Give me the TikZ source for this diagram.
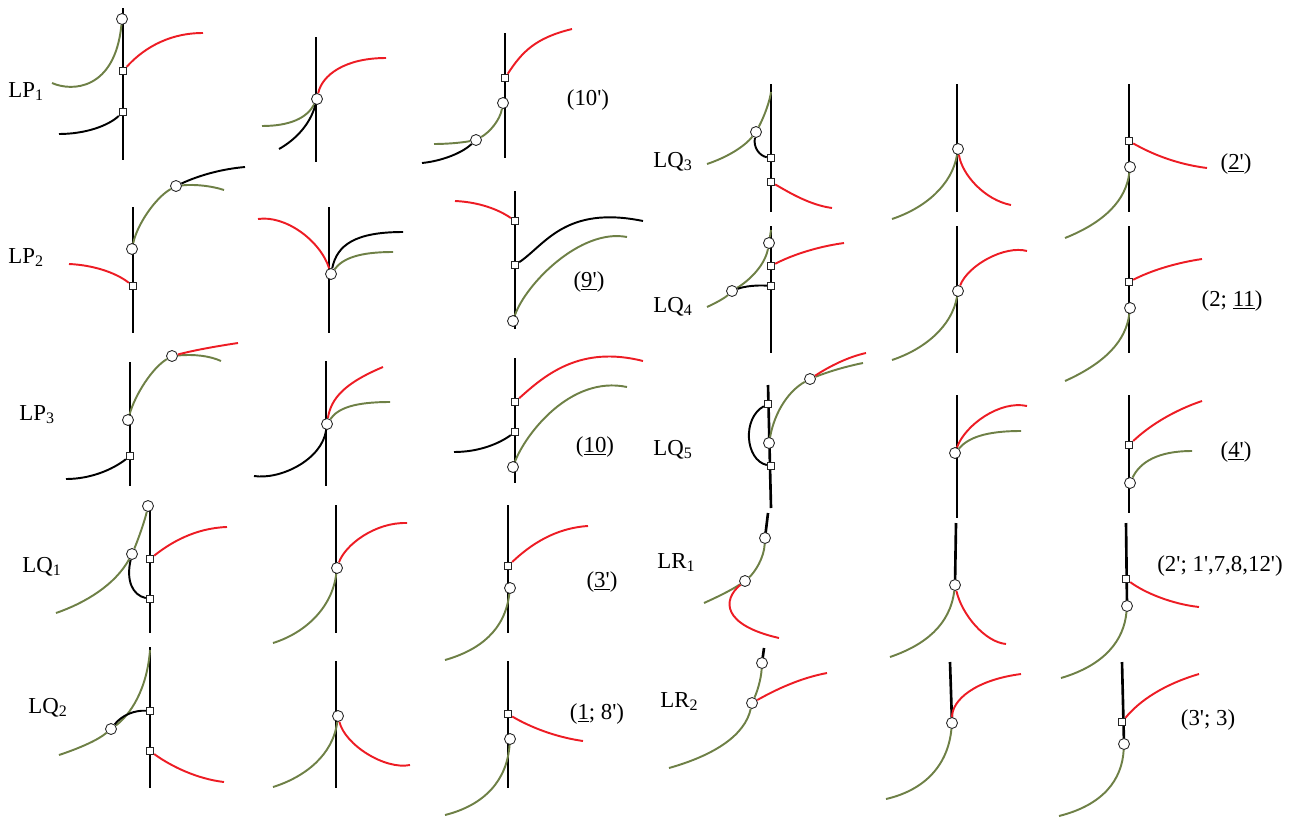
\documentclass[tikz,border=0pt]{standalone}
\usepackage{fontspec}
\setmainfont{Liberation Serif}
\definecolor{lred}{RGB}{237,28,36}
\definecolor{lgreen}{RGB}{110,128,70}
\newcommand\qs{\textquotesingle}
\begin{document}
\begin{tikzpicture}[x=0.02cm,y=-0.02cm,
  ax/.style={line width=1.5pt},
  rc/.style={lred,line width=1.1pt},
  gc/.style={lgreen,line width=1.1pt},
  kc/.style={black,line width=1.1pt},
  dot/.style={circle,draw=black!85,fill=white,line width=0.5pt,inner sep=0pt,minimum size=0.22cm},
  box/.style={rectangle,draw=black!85,fill=white,line width=0.5pt,inner sep=0pt,minimum size=0.15cm},
  lab/.style={font=\fontsize{13}{15}\selectfont,inner sep=0pt}]
\useasboundingbox (0,0) rectangle (1300,818);
\coordinate (p1a-t) at (123,8);
\coordinate (p1a-b) at (123,160);
\draw[ax] (p1a-t) -- (p1a-b);
\node[dot] (p1a-o1) at (122,19){};
\node[box] (p1a-s1) at (123,71){};
\node[box] (p1a-s2) at (123,112){};
\coordinate (p1a-g) at (52,83);
\coordinate (p1a-r) at (203,33);
\coordinate (p1a-k) at (59,134);
\draw[gc] (p1a-g) .. controls (72,92) and (115,90) .. (p1a-o1);
\draw[rc] (p1a-s1) .. controls (140,52) and (165,33) .. (p1a-r);
\draw[kc] (p1a-k) .. controls (85,134) and (108,126) .. (p1a-s2);
\node[lab,anchor=base west] (lp1) at (8,97) {LP\textsubscript{1}};
\coordinate (p1b-t) at (316,37);
\coordinate (p1b-b) at (316,162);
\draw[ax] (p1b-t) -- (p1b-b);
\node[dot] (p1b-o1) at (317,99){};
\coordinate (p1b-r) at (386,58);
\coordinate (p1b-g) at (262,126);
\coordinate (p1b-k) at (279,149);
\draw[rc] (p1b-o1) .. controls (322,75) and (345,58) .. (p1b-r);
\draw[gc] (p1b-g) .. controls (290,126) and (307,118) .. (p1b-o1);
\draw[kc] (p1b-k) .. controls (295,140) and (310,125) .. (p1b-o1);
\coordinate (p1c-t) at (505,33);
\coordinate (p1c-b) at (505,158);
\draw[ax] (p1c-t) -- (p1c-b);
\node[box] (p1c-s1) at (505,78){};
\node[dot] (p1c-o1) at (503,103){};
\node[dot] (p1c-o2) at (476,140){};
\coordinate (p1c-r) at (572,29);
\coordinate (p1c-g) at (434,144);
\coordinate (p1c-k) at (422,163);
\draw[rc] (p1c-s1) .. controls (522,52) and (535,38) .. (p1c-r);
\draw[gc] (p1c-o1) .. controls (500,120) and (490,132) .. (p1c-o2);
\draw[gc] (p1c-o2) .. controls (460,143) and (445,144) .. (p1c-g);
\draw[kc] (p1c-k) .. controls (442,161) and (462,153) .. (p1c-o2);
\node[lab,anchor=base] (n10p) at (588,105) {(10\qs)};
\coordinate (p2a-t) at (133,207);
\coordinate (p2a-b) at (133,333);
\draw[ax] (p2a-t) -- (p2a-b);
\node[dot] (p2a-o1) at (132,249){};
\node[dot] (p2a-o2) at (176,186){};
\node[box] (p2a-s1) at (133,286){};
\coordinate (p2a-g) at (224,190);
\coordinate (p2a-k) at (245,167);
\coordinate (p2a-r) at (69,264);
\draw[gc] (p2a-o1) .. controls (137,225) and (155,198) .. (p2a-o2);
\draw[gc] (p2a-o2) .. controls (195,184) and (212,186) .. (p2a-g);
\draw[kc] (p2a-o2) .. controls (200,175) and (222,169) .. (p2a-k);
\draw[rc] (p2a-r) .. controls (92,265) and (115,272) .. (p2a-s1);
\node[lab,anchor=base west] (lp2) at (8,263) {LP\textsubscript{2}};
\coordinate (p2b-t) at (329,207);
\coordinate (p2b-b) at (329,333);
\draw[ax] (p2b-t) -- (p2b-b);
\node[dot] (p2b-o1) at (331,274){};
\coordinate (p2b-r) at (258,219);
\coordinate (p2b-k) at (403,232);
\coordinate (p2b-g) at (393,252);
\draw[rc] (p2b-r) .. controls (285,215) and (320,240) .. (p2b-o1);
\draw[kc] (p2b-o1) .. controls (337,245) and (355,232) .. (p2b-k);
\draw[gc] (p2b-o1) .. controls (343,258) and (360,252) .. (p2b-g);
\coordinate (p2c-t) at (515,191);
\coordinate (p2c-b) at (515,329);
\draw[ax] (p2c-t) -- (p2c-b);
\node[box] (p2c-s1) at (515,221){};
\node[box] (p2c-s2) at (515,265){};
\node[dot] (p2c-o1) at (513,321){};
\coordinate (p2c-r) at (455,201);
\coordinate (p2c-k) at (643,221);
\coordinate (p2c-g) at (627,237);
\draw[rc] (p2c-r) .. controls (478,202) and (498,209) .. (p2c-s1);
\draw[kc] (p2c-s2) .. controls (545,245) and (565,205) .. (p2c-k);
\draw[gc] (p2c-o1) .. controls (525,285) and (580,228) .. (p2c-g);
\node[lab,anchor=base] (n9p) at (589,287) {(\underline{9\qs})};
\coordinate (p3a-t) at (130,362);
\coordinate (p3a-b) at (130,486);
\draw[ax] (p3a-t) -- (p3a-b);
\node[dot] (p3a-o1) at (128,420){};
\node[dot] (p3a-o2) at (172,356){};
\node[box] (p3a-s1) at (130,456){};
\coordinate (p3a-g) at (221,361);
\coordinate (p3a-r) at (238,343);
\coordinate (p3a-k) at (66,479);
\draw[gc] (p3a-o1) .. controls (135,395) and (152,368) .. (p3a-o2);
\draw[gc] (p3a-o2) .. controls (195,354) and (210,356) .. (p3a-g);
\draw[rc] (p3a-o2) .. controls (195,350) and (218,346) .. (p3a-r);
\draw[kc] (p3a-k) .. controls (90,479) and (112,470) .. (p3a-s1);
\node[lab,anchor=base west] (lp3) at (19,420) {LP\textsubscript{3}};
\coordinate (p3b-t) at (326,361);
\coordinate (p3b-b) at (326,486);
\draw[ax] (p3b-t) -- (p3b-b);
\node[dot] (p3b-o1) at (327,424){};
\coordinate (p3b-r) at (383,367);
\coordinate (p3b-g) at (390,402);
\coordinate (p3b-k) at (254,476);
\draw[rc] (p3b-o1) .. controls (331,398) and (345,383) .. (p3b-r);
\draw[gc] (p3b-o1) .. controls (338,408) and (355,402) .. (p3b-g);
\draw[kc] (p3b-k) .. controls (280,480) and (322,460) .. (p3b-o1);
\coordinate (p3c-t) at (515,358);
\coordinate (p3c-b) at (515,483);
\draw[ax] (p3c-t) -- (p3c-b);
\node[box] (p3c-s1) at (515,402){};
\node[box] (p3c-s2) at (515,432){};
\node[dot] (p3c-o1) at (513,467){};
\coordinate (p3c-r) at (643,361);
\coordinate (p3c-k) at (454,452);
\coordinate (p3c-g) at (627,387);
\draw[rc] (p3c-s1) .. controls (545,375) and (580,345) .. (p3c-r);
\draw[kc] (p3c-k) .. controls (480,452) and (500,443) .. (p3c-s2);
\draw[gc] (p3c-o1) .. controls (525,435) and (570,375) .. (p3c-g);
\node[lab,anchor=base] (n10) at (595,452) {(\underline{10})};
\coordinate (q1a-t) at (150,510);
\coordinate (q1a-b) at (150,633);
\draw[ax] (q1a-t) -- (q1a-b);
\node[dot] (q1a-o1) at (148,506){};
\node[dot] (q1a-o2) at (132,554){};
\node[box] (q1a-s1) at (150,559){};
\node[box] (q1a-s2) at (150,599){};
\coordinate (q1a-g) at (56,613);
\coordinate (q1a-r) at (227,527);
\draw[gc] (q1a-g) .. controls (85,603) and (115,585) .. (q1a-o2);
\draw[gc] (q1a-o2) .. controls (138,540) and (145,520) .. (q1a-o1);
\draw[kc] (q1a-o2) .. controls (126,580) and (132,595) .. (q1a-s2);
\draw[rc] (q1a-s1) .. controls (170,543) and (195,528) .. (q1a-r);
\node[lab,anchor=base west] (lq1) at (22,572) {LQ\textsubscript{1}};
\coordinate (q1b-t) at (336,505);
\coordinate (q1b-b) at (336,633);
\draw[ax] (q1b-t) -- (q1b-b);
\node[dot] (q1b-o1) at (337,568){};
\coordinate (q1b-r) at (407,523);
\coordinate (q1b-g) at (273,643);
\draw[rc] (q1b-o1) .. controls (345,545) and (375,522) .. (q1b-r);
\draw[gc] (q1b-g) .. controls (305,633) and (332,608) .. (q1b-o1);
\coordinate (q1c-t) at (508,505);
\coordinate (q1c-b) at (508,633);
\draw[ax] (q1c-t) -- (q1c-b);
\node[box] (q1c-s1) at (508,566){};
\node[dot] (q1c-o1) at (510,588){};
\coordinate (q1c-r) at (588,526);
\coordinate (q1c-g) at (445,660);
\draw[rc] (q1c-s1) .. controls (530,545) and (555,528) .. (q1c-r);
\draw[gc] (q1c-o1) .. controls (505,630) and (480,650) .. (q1c-g);
\node[lab,anchor=base] (n3p) at (602,587) {(\underline{3\qs})};
\coordinate (q2a-t) at (150,647);
\coordinate (q2a-b) at (150,788);
\draw[ax] (q2a-t) -- (q2a-b);
\node[box] (q2a-s1) at (150,711){};
\node[dot] (q2a-o1) at (111,729){};
\node[box] (q2a-s2) at (150,751){};
\coordinate (q2a-g) at (59,755);
\coordinate (q2a-gt) at (150,650);
\coordinate (q2a-r) at (224,782);
\draw[gc] (q2a-g) .. controls (80,748) and (98,740) .. (q2a-o1);
\draw[gc] (q2a-o1) .. controls (130,715) and (147,690) .. (q2a-gt);
\draw[kc] (q2a-o1) .. controls (122,715) and (135,710) .. (q2a-s1);
\draw[rc] (q2a-s2) .. controls (172,767) and (198,779) .. (q2a-r);
\node[lab,anchor=base west] (lq2) at (28,713) {LQ\textsubscript{2}};
\coordinate (q2b-t) at (336,661);
\coordinate (q2b-b) at (336,788);
\draw[ax] (q2b-t) -- (q2b-b);
\node[dot] (q2b-o1) at (338,716){};
\coordinate (q2b-g) at (273,787);
\coordinate (q2b-r) at (410,765);
\draw[gc] (q2b-g) .. controls (305,777) and (333,755) .. (q2b-o1);
\draw[rc] (q2b-o1) .. controls (345,745) and (385,770) .. (q2b-r);
\coordinate (q2c-t) at (508,661);
\coordinate (q2c-b) at (508,788);
\draw[ax] (q2c-t) -- (q2c-b);
\node[box] (q2c-s1) at (508,714){};
\node[dot] (q2c-o1) at (510,739){};
\coordinate (q2c-r) at (583,741);
\coordinate (q2c-g) at (445,815);
\draw[rc] (q2c-s1) .. controls (530,727) and (555,737) .. (q2c-r);
\draw[gc] (q2c-o1) .. controls (507,780) and (485,805) .. (q2c-g);
\node[lab,anchor=base] (n18p) at (597,719) {(\underline{1}; 8\qs)};
\coordinate (q3a-t) at (771,84);
\coordinate (q3a-b) at (771,212);
\draw[ax] (q3a-t) -- (q3a-b);
\node[dot] (q3a-o1) at (756,132){};
\node[box] (q3a-s1) at (771,158){};
\node[box] (q3a-s2) at (771,182){};
\coordinate (q3a-g) at (707,164);
\coordinate (q3a-gt) at (771,92);
\coordinate (q3a-r) at (832,208);
\draw[gc] (q3a-g) .. controls (728,157) and (745,146) .. (q3a-o1);
\draw[gc] (q3a-o1) .. controls (765,115) and (770,100) .. (q3a-gt);
\draw[kc] (q3a-o1) .. controls (753,148) and (760,156) .. (q3a-s1);
\draw[rc] (q3a-s2) .. controls (790,193) and (810,205) .. (q3a-r);
\node[lab,anchor=base west] (lq3) at (653,167) {LQ\textsubscript{3}};
\coordinate (q3b-t) at (957,84);
\coordinate (q3b-b) at (957,212);
\draw[ax] (q3b-t) -- (q3b-b);
\node[dot] (q3b-o1) at (958,149){};
\coordinate (q3b-r) at (1011,205);
\coordinate (q3b-g) at (892,219);
\draw[rc] (q3b-o1) .. controls (962,175) and (985,200) .. (q3b-r);
\draw[gc] (q3b-g) .. controls (925,208) and (952,185) .. (q3b-o1);
\coordinate (q3c-t) at (1129,84);
\coordinate (q3c-b) at (1129,212);
\draw[ax] (q3c-t) -- (q3c-b);
\node[box] (q3c-s1) at (1129,141){};
\node[dot] (q3c-o1) at (1130,167){};
\coordinate (q3c-r) at (1207,168);
\coordinate (q3c-g) at (1065,238);
\draw[rc] (q3c-s1) .. controls (1150,153) and (1175,164) .. (q3c-r);
\draw[gc] (q3c-o1) .. controls (1126,200) and (1105,222) .. (q3c-g);
\node[lab,anchor=base] (n2p) at (1236,169) {(\underline{2\qs})};
\coordinate (q4a-t) at (771,226);
\coordinate (q4a-b) at (771,353);
\draw[ax] (q4a-t) -- (q4a-b);
\node[dot] (q4a-o1) at (769,243){};
\node[box] (q4a-s1) at (771,266){};
\node[box] (q4a-s2) at (771,286){};
\node[dot] (q4a-o2) at (732,291){};
\coordinate (q4a-g) at (707,307);
\coordinate (q4a-gt) at (771,230);
\coordinate (q4a-r) at (844,243);
\draw[gc] (q4a-g) .. controls (718,302) and (726,297) .. (q4a-o2);
\draw[gc] (q4a-o2) .. controls (750,280) and (765,265) .. (q4a-o1);
\draw[gc] (q4a-o1) -- (q4a-gt);
\draw[kc] (q4a-o2) .. controls (745,286) and (758,285) .. (q4a-s2);
\draw[rc] (q4a-s1) .. controls (790,256) and (815,247) .. (q4a-r);
\node[lab,anchor=base west] (lq4) at (653,312) {LQ\textsubscript{4}};
\coordinate (q4b-t) at (957,226);
\coordinate (q4b-b) at (957,353);
\draw[ax] (q4b-t) -- (q4b-b);
\node[dot] (q4b-o1) at (958,291){};
\coordinate (q4b-r) at (1027,251);
\coordinate (q4b-g) at (892,360);
\draw[rc] (q4b-o1) .. controls (968,265) and (1005,245) .. (q4b-r);
\draw[gc] (q4b-g) .. controls (925,349) and (952,326) .. (q4b-o1);
\coordinate (q4c-t) at (1129,226);
\coordinate (q4c-b) at (1129,353);
\draw[ax] (q4c-t) -- (q4c-b);
\node[box] (q4c-s1) at (1129,282){};
\node[dot] (q4c-o1) at (1130,308){};
\coordinate (q4c-r) at (1202,259);
\coordinate (q4c-g) at (1065,381);
\draw[rc] (q4c-s1) .. controls (1150,271) and (1175,263) .. (q4c-r);
\draw[gc] (q4c-o1) .. controls (1126,341) and (1105,363) .. (q4c-g);
\node[lab,anchor=base] (n211) at (1232,306) {(2; \underline{11})};
\coordinate (q5a-t) at (768,385);
\coordinate (q5a-b) at (771,508);
\draw[ax] (q5a-t) -- (q5a-b);
\node[box] (q5a-s1) at (768,404){};
\node[dot] (q5a-o1) at (769,443){};
\node[box] (q5a-s2) at (771,466){};
\node[dot] (q5a-o2) at (810,379){};
\coordinate (q5a-g) at (863,363);
\coordinate (q5a-r) at (866,353);
\draw[kc] (q5a-s1) .. controls (742,418) and (745,460) .. (q5a-s2);
\draw[gc] (q5a-o1) .. controls (775,410) and (790,390) .. (q5a-o2);
\draw[gc] (q5a-o2) .. controls (830,371) and (848,366) .. (q5a-g);
\draw[rc] (q5a-o2) .. controls (830,366) and (848,357) .. (q5a-r);
\node[lab,anchor=base west] (lq5) at (653,455) {LQ\textsubscript{5}};
\coordinate (q5b-t) at (957,395);
\coordinate (q5b-b) at (957,518);
\draw[ax] (q5b-t) -- (q5b-b);
\node[dot] (q5b-o1) at (955,453){};
\coordinate (q5b-r) at (1027,406);
\coordinate (q5b-g) at (1021,431);
\draw[rc] (q5b-o1) .. controls (965,425) and (1000,400) .. (q5b-r);
\draw[gc] (q5b-o1) .. controls (968,438) and (985,431) .. (q5b-g);
\coordinate (q5c-t) at (1129,395);
\coordinate (q5c-b) at (1129,513);
\draw[ax] (q5c-t) -- (q5c-b);
\node[box] (q5c-s1) at (1129,445){};
\node[dot] (q5c-o1) at (1130,483){};
\coordinate (q5c-r) at (1202,401);
\coordinate (q5c-g) at (1192,451);
\draw[rc] (q5c-s1) .. controls (1150,425) and (1175,410) .. (q5c-r);
\draw[gc] (q5c-o1) .. controls (1140,462) and (1158,451) .. (q5c-g);
\node[lab,anchor=base] (n4p) at (1236,457) {(\underline{4\qs})};
\coordinate (r1a-t) at (768,513);
\coordinate (r1a-b) at (765,538);
\draw[ax] (r1a-t) -- (r1a-b);
\node[dot] (r1a-o1) at (765,538){};
\node[dot] (r1a-o2) at (745,581){};
\coordinate (r1a-g) at (704,603);
\coordinate (r1a-r) at (779,638);
\draw[gc] (r1a-o1) .. controls (764,558) and (755,572) .. (r1a-o2);
\draw[gc] (r1a-o2) .. controls (730,591) and (715,598) .. (r1a-g);
\draw[rc] (r1a-o2) .. controls (722,600) and (722,625) .. (r1a-r);
\node[lab,anchor=base west] (lr1) at (657,568) {LR\textsubscript{1}};
\coordinate (r1b-t) at (956,523);
\coordinate (r1b-b) at (955,585);
\draw[ax] (r1b-t) -- (r1b-b);
\node[dot] (r1b-o1) at (955,585){};
\coordinate (r1b-g) at (890,657);
\coordinate (r1b-r) at (1006,644);
\draw[gc] (r1b-o1) .. controls (950,625) and (925,645) .. (r1b-g);
\draw[rc] (r1b-o1) .. controls (962,615) and (985,642) .. (r1b-r);
\coordinate (r1c-t) at (1126,523);
\coordinate (r1c-b) at (1127,606);
\draw[ax] (r1c-t) -- (r1c-b);
\node[box] (r1c-s1) at (1126,579){};
\node[dot] (r1c-o1) at (1127,606){};
\coordinate (r1c-r) at (1199,607);
\coordinate (r1c-g) at (1061,678);
\draw[rc] (r1c-s1) .. controls (1145,593) and (1172,604) .. (r1c-r);
\draw[gc] (r1c-o1) .. controls (1124,640) and (1105,665) .. (r1c-g);
\node[lab,anchor=base] (n2p1p) at (1220,571) {(2\qs; 1\qs,7,8,12\qs)};
\coordinate (r2a-t) at (764,648);
\coordinate (r2a-b) at (762,663);
\draw[ax] (r2a-t) -- (r2a-b);
\node[dot] (r2a-o1) at (762,663){};
\node[dot] (r2a-o2) at (752,703){};
\coordinate (r2a-g) at (669,768);
\coordinate (r2a-r) at (827,673);
\draw[gc] (r2a-o1) .. controls (761,680) and (757,692) .. (r2a-o2);
\draw[gc] (r2a-o2) .. controls (745,735) and (715,755) .. (r2a-g);
\draw[rc] (r2a-o2) .. controls (775,690) and (800,678) .. (r2a-r);
\node[lab,anchor=base west] (lr2) at (660,707) {LR\textsubscript{2}};
\coordinate (r2b-t) at (950,662);
\coordinate (r2b-b) at (952,723);
\draw[ax] (r2b-t) -- (r2b-b);
\node[dot] (r2b-o1) at (952,723){};
\coordinate (r2b-r) at (1021,674);
\coordinate (r2b-g) at (886,799);
\draw[rc] (r2b-o1) .. controls (952,700) and (975,680) .. (r2b-r);
\draw[gc] (r2b-o1) .. controls (948,765) and (925,790) .. (r2b-g);
\coordinate (r2c-t) at (1122,662);
\coordinate (r2c-b) at (1124,744);
\draw[ax] (r2c-t) -- (r2c-b);
\node[box] (r2c-s1) at (1122,722){};
\node[dot] (r2c-o1) at (1124,744){};
\coordinate (r2c-r) at (1199,674);
\coordinate (r2c-g) at (1059,816);
\draw[rc] (r2c-s1) .. controls (1140,700) and (1165,684) .. (r2c-r);
\draw[gc] (r2c-o1) .. controls (1122,780) and (1103,805) .. (r2c-g);
\node[lab,anchor=base] (n3p3) at (1208,725) {(3\qs; 3)};
\end{tikzpicture}
\end{document}
